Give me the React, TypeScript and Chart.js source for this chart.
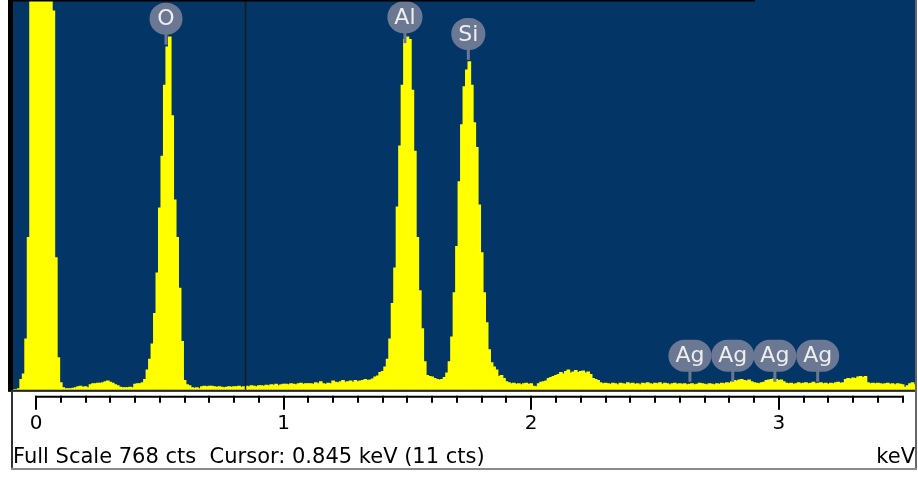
import React, { useEffect, useRef } from 'react';
import { Chart, registerables } from 'chart.js';

Chart.register(...registerables);

// ---- data ----
const CHANNEL_START_KEV = -0.09;
const CHANNEL_WIDTH_KEV = 0.01;
// counts per 10 eV channel, from -0.09 keV to 3.55 keV (values above full scale are off the chart)
const COUNTS = [
  // -0.09 .. 0.00
  0, 0, 2, 20, 31, 100, 300, 2000, 2000, 2000,
  // 0.01 .. 0.10
  2000, 2000, 2000, 2000, 2000, 1200, 746, 260, 63, 14,
  // 0.11 .. 0.20
  4, 2, 2, 2, 3, 4, 6, 7, 5, 6,
  // 0.21 .. 0.30
  4, 10, 12, 12, 13, 13, 14, 16, 17, 15,
  // 0.31 .. 0.40
  13, 10, 8, 5, 4, 4, 4, 5, 4, 11,
  // 0.41 .. 0.50
  12, 12, 14, 20, 39, 60, 90, 150, 230, 358,
  // 0.51 .. 0.60
  460, 600, 675, 695, 540, 374, 300, 200, 95, 18,
  // 0.61 .. 0.70
  10, 8, 4, 3, 4, 2, 6, 7, 6, 7,
  // 0.71 .. 0.80
  7, 6, 5, 6, 5, 4, 5, 6, 5, 6,
  // 0.81 .. 0.90
  6, 7, 5, 6, 7, 6, 8, 7, 6, 8,
  // 0.91 .. 1.00
  8, 7, 9, 8, 10, 9, 11, 8, 10, 11,
  // 1.01 .. 1.10
  11, 10, 12, 11, 10, 12, 13, 11, 12, 12,
  // 1.11 .. 1.20
  12, 11, 14, 12, 16, 12, 11, 13, 12, 17,
  // 1.21 .. 1.30
  15, 14, 16, 18, 15, 16, 17, 15, 18, 16,
  // 1.31 .. 1.40
  17, 18, 20, 18, 19, 21, 25, 27, 34, 36,
  // 1.41 .. 1.50
  45, 60, 100, 170, 240, 360, 480, 600, 690, 695,
  // 1.51 .. 1.60
  690, 590, 470, 300, 195, 120, 55, 28, 26, 25,
  // 1.61 .. 1.70
  22, 20, 19, 20, 24, 33, 55, 104, 191, 282,
  // 1.71 .. 1.80
  410, 522, 597, 630, 646, 600, 526, 477, 364, 270,
  // 1.81 .. 1.90
  191, 132, 79, 53, 45, 39, 26, 28, 22, 16,
  // 1.91 .. 2.00
  14, 12, 13, 11, 12, 10, 12, 13, 11, 12,
  // 2.01 .. 2.10
  7, 6, 12, 15, 16, 17, 22, 24, 26, 28,
  // 2.11 .. 2.20
  30, 34, 31, 36, 39, 33, 35, 38, 34, 36,
  // 2.21 .. 2.30
  37, 33, 35, 30, 22, 20, 18, 14, 12, 13,
  // 2.31 .. 2.40
  12, 11, 13, 12, 10, 13, 12, 11, 14, 12,
  // 2.41 .. 2.50
  13, 11, 12, 10, 13, 12, 14, 12, 11, 13,
  // 2.51 .. 2.60
  12, 14, 11, 13, 12, 10, 12, 13, 11, 12,
  // 2.61 .. 2.70
  11, 12, 10, 11, 12, 10, 11, 13, 12, 11,
  // 2.71 .. 2.80
  10, 12, 11, 10, 12, 11, 13, 12, 14, 13,
  // 2.81 .. 2.90
  16, 18, 17, 19, 20, 18, 17, 19, 16, 14,
  // 2.91 .. 3.00
  13, 12, 14, 15, 18, 19, 20, 21, 20, 18,
  // 3.01 .. 3.10
  19, 16, 13, 12, 13, 11, 12, 14, 12, 13,
  // 3.11 .. 3.20
  14, 12, 13, 15, 12, 13, 14, 12, 13, 11,
  // 3.21 .. 3.30
  13, 12, 14, 15, 13, 14, 20, 22, 21, 23,
  // 3.31 .. 3.40
  22, 25, 26, 24, 26, 14, 12, 13, 12, 13,
  // 3.41 .. 3.50
  12, 11, 12, 13, 11, 12, 10, 12, 11, 10,
  // 3.51 .. 3.55
  5, 8, 12, 14, 10,
];

const X_MIN_KEV = -0.093;
const X_MAX_KEV = 3.55;
const FULL_SCALE_CTS = 768;
const MAJOR_TICKS_KEV = [0, 1, 2, 3];
const MINOR_TICK_STEP_KEV = 0.1;
const AXIS_END_KEV = 3.5;
const CURSOR_KEV = 0.845;
const CURSOR_CTS = 11;
const UNIT_LABEL = 'keV';

const ELEMENT_NAMES = ['O', 'Al', 'Si', 'Ag', 'Ag', 'Ag', 'Ag'];
const ELEMENT_KEV = [0.525, 1.49, 1.746, 2.641, 2.814, 2.984, 3.157];
const ELEMENT_MARK_CTS = [680, 683, 650, 16, 16, 16, 16];

// ---- styles ----
const BG = '#033566';
const YELLOW = '#FFFF00';
const BUBBLE = '#6B7893';
const FONT = '"DejaVu Sans", Verdana, sans-serif';

const edsPlugin = {
  id: 'edsDecor',
  beforeDraw(chart: any) {
    const { ctx, chartArea: a } = chart;
    ctx.save();
    ctx.fillStyle = BG;
    ctx.fillRect(a.left, a.top, a.right - a.left, a.bottom - a.top);
    ctx.restore();
  },
  afterDatasetsDraw(chart: any) {
    const { ctx, chartArea: a, scales } = chart;
    const xs = scales.x;
    const ys = scales.y;
    ctx.save();
    // cursor
    const cx = Math.round(xs.getPixelForValue(CURSOR_KEV)) + 0.5;
    ctx.strokeStyle = '#1a1a1a';
    ctx.lineWidth = 1.5;
    ctx.beginPath();
    ctx.moveTo(cx, a.top);
    ctx.lineTo(cx, a.bottom);
    ctx.stroke();

    // element markers
    ctx.font = `22px ${FONT}`;
    ctx.textAlign = 'center';
    ctx.textBaseline = 'middle';
    ELEMENT_NAMES.forEach((name, i) => {
      const x = xs.getPixelForValue(ELEMENT_KEV[i]);
      const tip = ys.getPixelForValue(ELEMENT_MARK_CTS[i]);
      const h = 32;
      const stem = 10;
      const tw = ctx.measureText(name).width;
      const w = Math.max(33, tw + 14);
      const bottom = tip - stem;
      const top = bottom - h;
      const r = h / 2;
      ctx.fillStyle = BUBBLE;
      ctx.fillRect(x - 1.5, bottom - 2, 3, stem + 2);
      ctx.beginPath();
      ctx.moveTo(x - w / 2 + r, top);
      ctx.lineTo(x + w / 2 - r, top);
      ctx.arc(x + w / 2 - r, top + r, r, -Math.PI / 2, Math.PI / 2);
      ctx.lineTo(x - w / 2 + r, bottom);
      ctx.arc(x - w / 2 + r, top + r, r, Math.PI / 2, (3 * Math.PI) / 2);
      ctx.closePath();
      ctx.fill();
      ctx.fillStyle = '#EEEEEE';
      ctx.fillText(name, x, top + r + 1);
    });
    ctx.restore();
  },
  afterDraw(chart: any) {
    const { ctx, chartArea: a, scales } = chart;
    const xs = scales.x;
    ctx.save();
    // frame
    ctx.fillStyle = '#000';
    ctx.fillRect(8, 0, a.left - 8, a.bottom + 2);
    ctx.fillRect(8, 0, 755 - 8, 1.5);
    ctx.fillStyle = '#222';
    ctx.fillRect(a.left, a.bottom, a.right - a.left + 1, 2);
    ctx.fillStyle = '#333';
    ctx.fillRect(a.left - 2, a.bottom, 2, 78);
    ctx.fillStyle = '#666';
    ctx.fillRect(a.right, 0, 2, 470);
    ctx.fillStyle = '#8a8a8a';
    ctx.fillRect(a.left - 2, 468, a.right - a.left + 4, 2);

    // axis line and ticks
    const axisY = a.bottom + 7;
    const x0 = xs.getPixelForValue(0);
    const x1 = xs.getPixelForValue(AXIS_END_KEV);
    ctx.strokeStyle = '#000';
    ctx.lineWidth = 2;
    ctx.beginPath();
    ctx.moveTo(x0 - 1, axisY);
    ctx.lineTo(x1 + 1, axisY);
    ctx.stroke();
    const nMinor = Math.round(AXIS_END_KEV / MINOR_TICK_STEP_KEV);
    ctx.beginPath();
    for (let k = 0; k <= nMinor; k++) {
      const v = k * MINOR_TICK_STEP_KEV;
      const isMajor = MAJOR_TICKS_KEV.some((m) => Math.abs(m - v) < 1e-6);
      const px = Math.round(xs.getPixelForValue(v));
      ctx.moveTo(px, axisY - 1);
      ctx.lineTo(px, axisY + (isMajor ? 13 : 6));
    }
    ctx.stroke();

    // unit label
    ctx.fillStyle = '#000';
    ctx.font = `21px ${FONT}`;
    ctx.textAlign = 'right';
    ctx.textBaseline = 'middle';
    ctx.fillText(UNIT_LABEL, a.right, xs.bottom - 12);
    ctx.restore();
  },
};

export default function App() {
  const ref = useRef<HTMLCanvasElement | null>(null);
  useEffect(() => {
    if (!ref.current) return;
    const points = COUNTS.map((c, i) => ({ x: CHANNEL_START_KEV + i * CHANNEL_WIDTH_KEV, y: c }));
    const chart = new Chart(ref.current, {
      type: 'bar',
      data: {
        datasets: [
          {
            data: points,
            backgroundColor: YELLOW,
            borderWidth: 0,
            barPercentage: 1,
            categoryPercentage: 1,
            inflateAmount: 0.6,
          } as any,
        ],
      },
      options: {
        animation: false,
        responsive: true,
        maintainAspectRatio: false,
        layout: { padding: { left: 13, right: 3, top: 0, bottom: 7 } },
        plugins: { legend: { display: false }, tooltip: { enabled: false } },
        scales: {
          x: {
            type: 'linear',
            min: X_MIN_KEV,
            max: X_MAX_KEV,
            offset: false,
            afterBuildTicks: (scale: any) => {
              scale.ticks = MAJOR_TICKS_KEV.map((v) => ({ value: v }));
            },
            grid: { display: false, drawTicks: true, tickLength: 20, offset: false },
            border: { display: false },
            ticks: {
              padding: 2,
              maxRotation: 0,
              autoSkip: false,
              color: '#000',
              font: { family: FONT, size: 20, lineHeight: 1.2 },
              callback: (v: any) => String(v),
            },
            title: {
              display: true,
              align: 'start',
              text: `Full Scale ${FULL_SCALE_CTS} cts  Cursor: ${CURSOR_KEV} keV (${CURSOR_CTS} cts)`,
              color: '#000',
              font: { family: FONT, size: 21, lineHeight: 1.15 },
              padding: { top: 8, bottom: 0 },
            },
          },
          y: {
            display: false,
            min: 0,
            max: FULL_SCALE_CTS,
          },
        },
      },
      plugins: [edsPlugin],
    });
    return () => chart.destroy();
  }, []);
  return (
    <div style={{ position: 'fixed', left: 0, top: 0, width: 918, height: 477, background: '#fff' }}>
      <canvas ref={ref} />
    </div>
  );
}
